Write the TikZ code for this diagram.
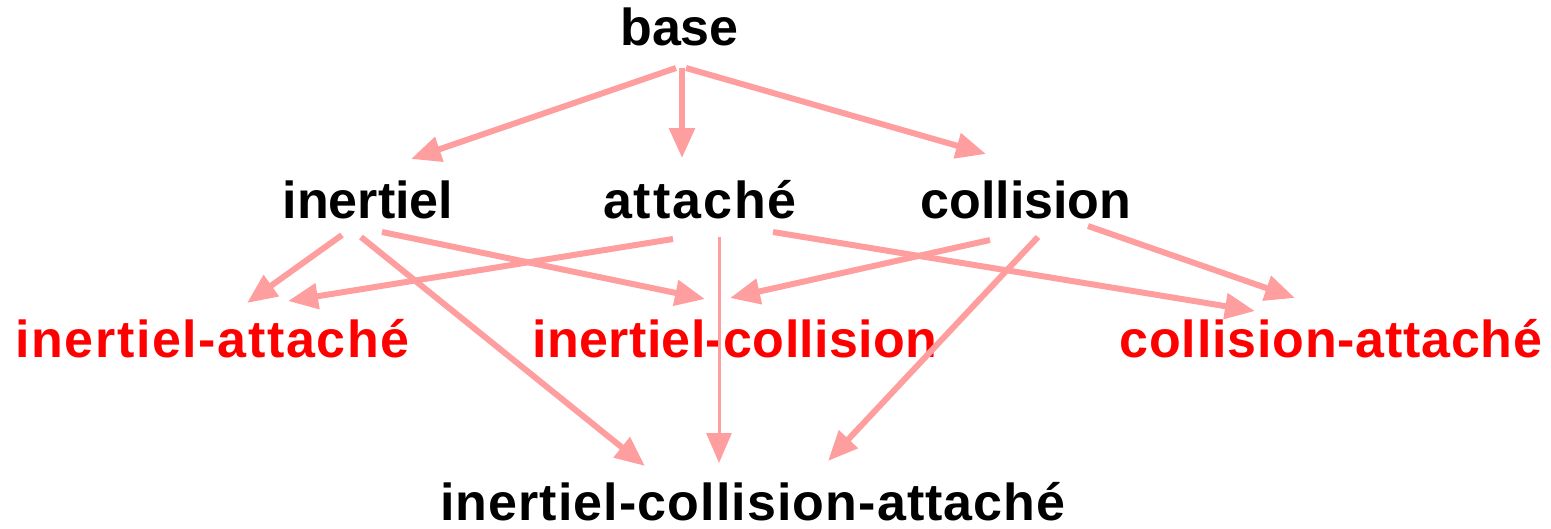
\documentclass[tikz,border=0pt]{standalone}
\usepackage{fontspec}
\setmainfont{Liberation Sans}
\usetikzlibrary{arrows.meta,calc}
\definecolor{linkpink}{RGB}{255,158,158}
\definecolor{derived}{RGB}{255,0,0}
\tikzset{
  lbl/.style={anchor=base,inner sep=0pt,font=\fontsize{52pt}{60pt}\selectfont\bfseries},
  basic/.style={lbl,text=black},
  combo/.style={lbl,text=derived},
  link/.style={draw=linkpink,line width=6pt,-{Triangle[length=30pt,width=25pt]}},
  thinlink/.style={link,line width=3pt}
}
\begin{document}
\begin{tikzpicture}[x=1pt,y=-1pt]
\useasboundingbox (0,0) rectangle (1551,528);
% nodes
\node[basic] (base) at (679.5,45) {base};
\node[basic] (inertiel) at (368,218) {inertiel};
\node[basic] (attache) at (700,218) {\addfontfeatures{LetterSpace=3.8}attaché};
\node[basic] (collision) at (1026,218) {collision};
\node[combo] (ia) at (212.5,357) {\addfontfeatures{LetterSpace=3.2}inertiel-attaché};
\node[combo] (ic) at (735,357) {\addfontfeatures{LetterSpace=0.7}inertiel-collision};
\node[combo] (ca) at (1331,357) {\addfontfeatures{LetterSpace=1.5}collision-attaché};
\node[basic] (ica) at (753,520) {\addfontfeatures{LetterSpace=2.1}inertiel-collision-attaché};
% connectors
\draw[link] ($(base.base)+(-3.5,23)$) -- ($(inertiel.base)+(43,-59)$);
\draw[link] ($(base.base)+(2.5,23)$) -- ($(attache.base)+(-18,-60)$);
\draw[link] ($(base.base)+(6.5,23)$) -- ($(collision.base)+(-40,-64)$);
\draw[link] ($(inertiel.base)+(-26,17)$) -- ($(ia.base)+(34.5,-54)$);
\draw[link] ($(attache.base)+(-27,21)$) -- ($(ia.base)+(75.5,-56)$);
\draw[link] ($(inertiel.base)+(14,14)$) -- ($(ic.base)+(-30,-58)$);
\draw[link] ($(inertiel.base)+(-7,19)$) -- ($(ica.base)+(-108,-54)$);
\draw[thinlink] ($(attache.base)+(19,19)$) -- ($(ica.base)+(-34,-57)$);
\draw[link] ($(attache.base)+(73,14)$) -- ($(ca.base)+(-76,-46)$);
\draw[link] ($(collision.base)+(-36,22)$) -- ($(ic.base)+(-5,-59)$);
\draw[link] ($(collision.base)+(12,19)$) -- ($(ica.base)+(75,-59)$);
\draw[link] ($(collision.base)+(62,8)$) -- ($(ca.base)+(-36,-59)$);
\end{tikzpicture}
\end{document}
